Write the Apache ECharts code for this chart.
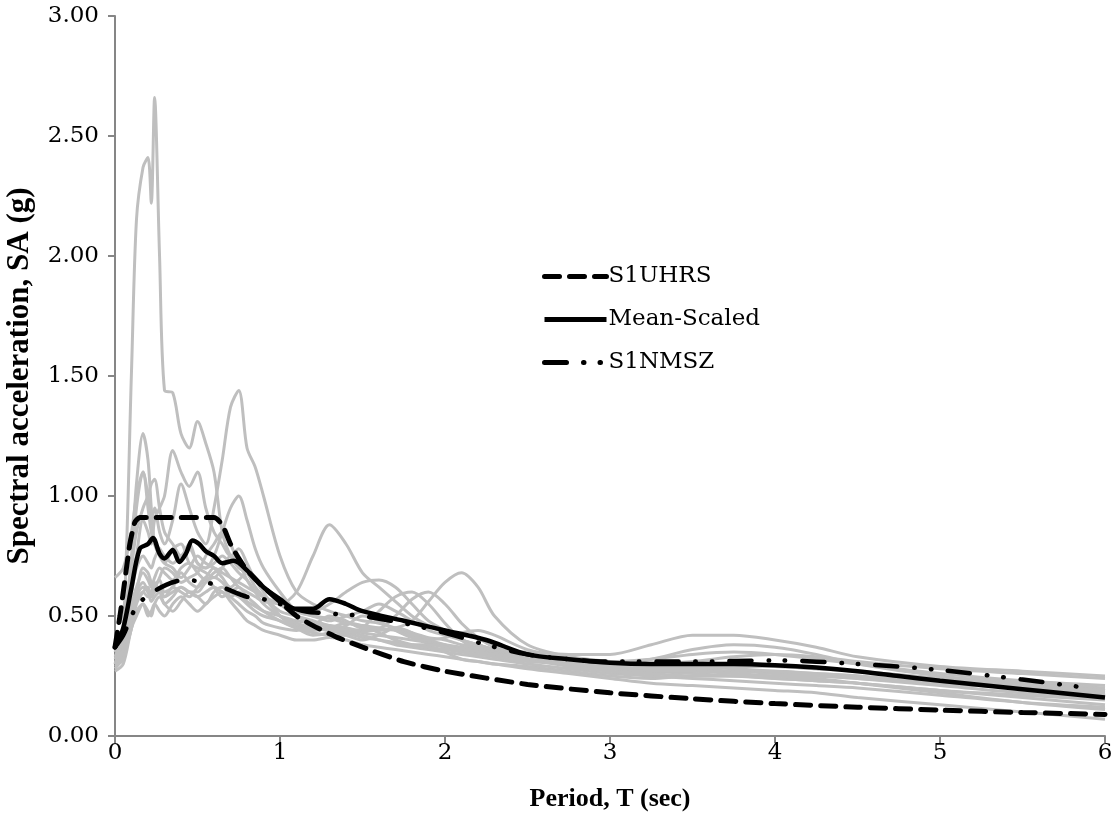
<!DOCTYPE html>
<html>
<head>
<meta charset="utf-8">
<script src="https://cdn.jsdelivr.net/npm/echarts@6/dist/echarts.min.js"></script>
<style>html,body{margin:0;padding:0;background:#fff}#c{width:1119px;height:824px}</style>
</head>
<body>
<div id="c"></div>
<script>
// ---- Data ----
const xTicks = [0, 1, 2, 3, 4, 5, 6];
const yTicks = ['0.00','0.50','1.00','1.50','2.00','2.50','3.00'];

// common period grid for the individual scaled records (grey)
const recPeriods = [0,0.05,0.1,0.13,0.17,0.2,0.22,0.24,0.27,0.3,0.35,0.4,0.45,0.5,0.55,0.6,0.65,0.7,0.75,0.8,0.85,0.9,1.0,1.1,1.2,1.3,1.4,1.5,1.6,1.7,1.8,1.9,2.0,2.1,2.2,2.3,2.5,2.75,3.0,3.25,3.5,3.75,4.0,4.25,4.5,5.0,5.5,6.0];

const rec01 = [0.30,0.45,1.52,2.15,2.37,2.41,2.22,2.66,2.0,1.44,1.43,1.26,1.2,1.31,1.22,1.1,0.85,0.75,0.7,0.68,0.62,0.58,0.52,0.5,0.48,0.46,0.45,0.43,0.42,0.41,0.4,0.39,0.38,0.37,0.36,0.35,0.33,0.3,0.28,0.27,0.26,0.25,0.24,0.23,0.22,0.19,0.17,0.15];
const rec02 = [0.32,0.4,0.7,0.95,1.1,1.0,0.9,0.95,0.85,0.8,0.9,1.05,0.95,0.85,0.8,0.95,1.15,1.37,1.44,1.2,1.12,1.0,0.75,0.6,0.55,0.52,0.5,0.48,0.47,0.45,0.43,0.41,0.4,0.38,0.37,0.36,0.34,0.32,0.3,0.29,0.3,0.3,0.29,0.28,0.27,0.24,0.22,0.2];
const rec03 = [0.35,0.45,0.75,1.05,1.26,1.15,0.95,0.8,0.75,0.72,0.78,0.8,0.72,0.7,0.68,0.66,0.7,0.75,0.72,0.65,0.6,0.58,0.55,0.52,0.5,0.49,0.47,0.46,0.45,0.44,0.42,0.4,0.38,0.36,0.35,0.34,0.33,0.31,0.29,0.28,0.28,0.27,0.27,0.26,0.25,0.22,0.2,0.18];
const rec04 = [0.3,0.38,0.6,0.75,0.9,0.85,0.8,0.9,0.95,1.0,1.19,1.1,1.04,1.1,0.95,0.85,0.8,0.75,0.78,0.72,0.65,0.6,0.5,0.46,0.45,0.44,0.42,0.4,0.42,0.45,0.43,0.38,0.35,0.32,0.31,0.3,0.29,0.27,0.25,0.24,0.25,0.25,0.24,0.23,0.22,0.19,0.16,0.13];
const rec05 = [0.33,0.42,0.7,0.85,0.95,1.0,1.05,1.07,0.95,0.85,0.8,0.75,0.8,0.72,0.7,0.75,0.85,0.95,1.0,0.9,0.78,0.7,0.6,0.52,0.5,0.48,0.5,0.52,0.55,0.52,0.48,0.44,0.42,0.4,0.38,0.36,0.34,0.32,0.31,0.32,0.34,0.35,0.34,0.32,0.3,0.26,0.23,0.21];
const rec06 = [0.3,0.35,0.5,0.58,0.62,0.6,0.58,0.62,0.65,0.6,0.62,0.68,0.64,0.62,0.66,0.7,0.68,0.66,0.64,0.62,0.6,0.58,0.55,0.6,0.75,0.88,0.8,0.68,0.62,0.56,0.5,0.46,0.43,0.4,0.38,0.36,0.33,0.3,0.28,0.27,0.27,0.27,0.26,0.25,0.24,0.21,0.18,0.16];
const rec07 = [0.28,0.33,0.45,0.55,0.6,0.62,0.58,0.6,0.62,0.58,0.6,0.62,0.6,0.58,0.6,0.62,0.6,0.58,0.6,0.56,0.54,0.52,0.5,0.48,0.47,0.46,0.45,0.44,0.44,0.45,0.48,0.56,0.64,0.68,0.62,0.5,0.38,0.33,0.3,0.29,0.29,0.28,0.27,0.26,0.25,0.22,0.2,0.17];
const rec08 = [0.35,0.4,0.55,0.62,0.68,0.65,0.62,0.66,0.7,0.68,0.65,0.7,0.72,0.68,0.65,0.68,0.7,0.66,0.62,0.6,0.58,0.56,0.55,0.53,0.52,0.55,0.6,0.64,0.65,0.62,0.55,0.48,0.44,0.4,0.38,0.36,0.35,0.34,0.34,0.38,0.42,0.42,0.4,0.37,0.33,0.29,0.27,0.25];
const rec09 = [0.33,0.38,0.5,0.6,0.64,0.6,0.56,0.58,0.6,0.55,0.58,0.62,0.6,0.6,0.64,0.66,0.64,0.6,0.58,0.55,0.52,0.5,0.48,0.45,0.43,0.42,0.42,0.45,0.52,0.58,0.6,0.55,0.47,0.4,0.36,0.34,0.32,0.31,0.3,0.32,0.36,0.38,0.37,0.34,0.3,0.25,0.22,0.19];
const rec10 = [0.3,0.34,0.45,0.52,0.55,0.52,0.5,0.55,0.58,0.55,0.52,0.56,0.6,0.58,0.55,0.6,0.62,0.58,0.55,0.52,0.5,0.47,0.45,0.44,0.46,0.5,0.48,0.45,0.45,0.5,0.57,0.6,0.55,0.47,0.41,0.37,0.33,0.3,0.28,0.27,0.27,0.26,0.25,0.24,0.22,0.18,0.14,0.11];
const rec11 = [0.66,0.7,0.85,1.0,1.1,0.95,0.85,0.8,0.78,0.75,0.72,0.75,0.78,0.72,0.7,0.72,0.75,0.72,0.68,0.65,0.6,0.55,0.5,0.47,0.45,0.44,0.43,0.41,0.4,0.38,0.37,0.36,0.35,0.34,0.33,0.32,0.3,0.28,0.26,0.25,0.24,0.23,0.22,0.21,0.2,0.17,0.14,0.12];
const rec12 = [0.27,0.3,0.45,0.5,0.55,0.5,0.52,0.55,0.52,0.5,0.55,0.58,0.55,0.52,0.55,0.58,0.6,0.56,0.52,0.48,0.46,0.44,0.42,0.4,0.4,0.41,0.4,0.38,0.37,0.36,0.35,0.34,0.33,0.32,0.31,0.3,0.28,0.26,0.24,0.22,0.21,0.2,0.19,0.18,0.16,0.13,0.1,0.07];
const rec13 = [0.38,0.45,0.6,0.7,0.75,0.72,0.7,0.74,0.78,0.72,0.7,0.66,0.7,0.75,0.72,0.7,0.66,0.62,0.65,0.68,0.62,0.58,0.5,0.45,0.42,0.43,0.46,0.5,0.48,0.44,0.41,0.4,0.41,0.43,0.44,0.42,0.36,0.33,0.31,0.3,0.31,0.33,0.34,0.33,0.31,0.28,0.26,0.24];
const rec14 = [0.32,0.36,0.52,0.6,0.7,0.68,0.64,0.62,0.66,0.7,0.68,0.64,0.66,0.68,0.75,0.8,0.85,0.8,0.72,0.7,0.66,0.62,0.55,0.5,0.47,0.45,0.44,0.42,0.4,0.39,0.38,0.38,0.37,0.36,0.35,0.34,0.32,0.29,0.27,0.26,0.25,0.25,0.25,0.25,0.24,0.22,0.2,0.17];
const rec15 = [0.29,0.32,0.48,0.56,0.6,0.58,0.6,0.64,0.6,0.58,0.62,0.6,0.58,0.62,0.66,0.62,0.58,0.6,0.62,0.58,0.55,0.52,0.48,0.45,0.44,0.45,0.47,0.46,0.43,0.4,0.38,0.37,0.36,0.35,0.34,0.33,0.31,0.3,0.29,0.28,0.28,0.29,0.29,0.28,0.27,0.24,0.21,0.19];

const uhrsT  = [0,0.03,0.06,0.09,0.12,0.15,0.6,0.65,0.7,0.75,0.8,0.9,1.0,1.1,1.2,1.35,1.5,1.75,2.0,2.5,3.0,3.5,4.0,4.5,5.0,5.5,6.0];
const uhrsSA = [0.37,0.5,0.65,0.8,0.89,0.91,0.91,0.88,0.8,0.74,0.69,0.62,0.56,0.5,0.46,0.41,0.37,0.31,0.27,0.215,0.18,0.155,0.135,0.12,0.108,0.098,0.09];

const meanT  = [0,0.05,0.1,0.15,0.2,0.23,0.27,0.3,0.35,0.39,0.43,0.47,0.51,0.55,0.6,0.65,0.72,0.8,0.9,1.0,1.09,1.2,1.3,1.4,1.5,1.75,2.0,2.25,2.5,2.75,3.0,3.25,3.5,3.75,4.0,4.25,4.5,4.75,5.0,5.5,6.0];
const meanSA = [0.37,0.45,0.62,0.78,0.8,0.825,0.76,0.74,0.775,0.725,0.76,0.815,0.8,0.77,0.75,0.72,0.73,0.69,0.62,0.57,0.53,0.53,0.57,0.55,0.52,0.48,0.44,0.4,0.34,0.32,0.305,0.3,0.3,0.3,0.295,0.285,0.27,0.25,0.23,0.195,0.16];

const nmszT  = [0,0.05,0.1,0.14,0.21,0.31,0.42,0.55,0.65,0.8,0.9,1.0,1.15,1.3,1.5,1.75,2.0,2.25,2.5,2.75,3.0,3.5,4.0,4.5,5.0,5.5,5.9];
const nmszSA = [0.37,0.42,0.5,0.55,0.59,0.63,0.65,0.64,0.62,0.58,0.57,0.55,0.52,0.51,0.5,0.47,0.43,0.38,0.34,0.32,0.31,0.31,0.315,0.3,0.275,0.235,0.2];

const records = [rec01,rec02,rec03,rec04,rec05,rec06,rec07,rec08,rec09,rec10,rec11,rec12,rec13,rec14,rec15];

// ---- Build chart ----
const pair = (xs, ys) => xs.map((x, i) => [x, ys[i]]);
const TIMES = '"Liberation Serif", "Times New Roman", serif';
const WIDE = '"DejaVu Serif", "Liberation Serif", serif';

const series = records.map((r, i) => ({
  name: 'rec' + (i + 1),
  type: 'line',
  data: pair(recPeriods, r),
  symbol: 'none',
  smooth: 0.3,
  lineStyle: { color: '#bfbfbf', width: 3 },
  z: 1,
  silent: true
}));

series.push({
  name: 'S1UHRS', type: 'line', data: pair(uhrsT, uhrsSA), symbol: 'none', smooth: 0.2,
  color: '#000',
  lineStyle: { color: '#000', width: 5, type: [15, 10], cap: 'round' }, z: 5
});
series.push({
  name: 'Mean-Scaled', type: 'line', data: pair(meanT, meanSA), symbol: 'none', smooth: 0.3,
  color: '#000',
  lineStyle: { color: '#000', width: 4.5 }, z: 6
});
series.push({
  name: 'S1NMSZ', type: 'line', data: pair(nmszT, nmszSA), symbol: 'none', smooth: 0.3,
  color: '#000',
  lineStyle: { color: '#000', width: 4.5, type: [22, 17, 0.5, 16, 0.5, 17], cap: 'round' }, z: 5
});

const chart = echarts.init(document.getElementById('c'), null, { renderer: 'canvas' });
chart.setOption({
  backgroundColor: '#fff',
  animation: false,
  grid: { left: 115, right: 14, top: 16, bottom: 88, outerBoundsMode: 'none', containLabel: false },
  legend: {
    data: ['S1UHRS', 'Mean-Scaled', 'S1NMSZ'],
    orient: 'vertical',
    left: 537, top: 260,
    itemWidth: 62, itemHeight: 20, itemGap: 20,
    itemStyle: { opacity: 0 },
    lineStyle: { width: 5, opacity: 1 },
    textStyle: { fontFamily: WIDE, fontSize: 23, color: '#000', lineHeight: 20, padding: [0, 0, 0, -3] }
  },
  xAxis: {
    type: 'value', min: 0, max: 6, interval: 1,
    name: 'Period, T (sec)', nameLocation: 'middle', nameGap: 50,
    nameTextStyle: { fontFamily: TIMES, fontSize: 26, fontWeight: 'bold', color: '#000' },
    axisLine: { lineStyle: { color: '#868686', width: 2 } },
    axisTick: { show: true, length: 7, lineStyle: { color: '#868686', width: 2 } },
    axisLabel: { fontFamily: WIDE, fontSize: 23, color: '#000', margin: 6,
      formatter: v => String(xTicks[Math.round(v)]) },
    splitLine: { show: false }
  },
  yAxis: {
    type: 'value', min: 0, max: 3, interval: 0.5,
    name: 'Spectral acceleration, SA (g)', nameLocation: 'middle', nameGap: 80,
    nameTextStyle: { fontFamily: TIMES, fontSize: 31, fontWeight: 'bold', color: '#000' },
    axisLine: { show: true, lineStyle: { color: '#868686', width: 2 } },
    axisTick: { show: true, length: 7, lineStyle: { color: '#868686', width: 2 } },
    axisLabel: { fontFamily: WIDE, fontSize: 23, color: '#000', margin: 16,
      formatter: v => yTicks[Math.round(v * 2)] },
    splitLine: { show: false }
  },
  series: series
});
</script>
</body>
</html>
